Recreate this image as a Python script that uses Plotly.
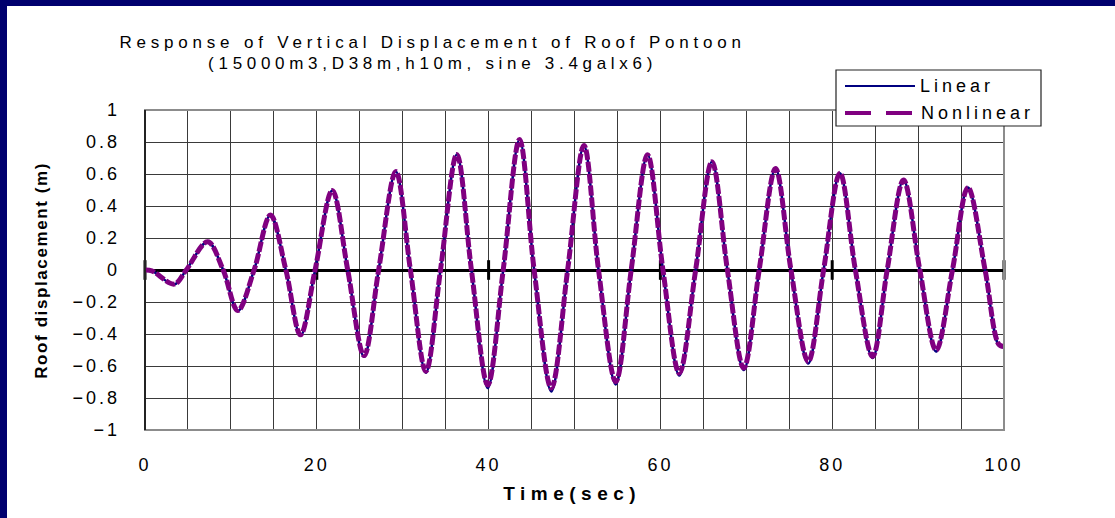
import plotly.graph_objects as go

# Roof pontoon vertical displacement, sampled at peaks, troughs and zero crossings
TIME = [0, 0.8, 3.4, 4.8, 7.3, 9.1, 10.8, 12.7, 14.6, 16.4, 18.1, 19.8, 21.8, 23.6,
        25.5, 27.2, 29.2, 30.9, 32.7, 34.4, 36.3, 38.0, 39.9, 41.7, 43.6, 45.3,
        47.3, 49.2, 51.1, 52.8, 54.8, 56.6, 58.5, 60.3, 62.2, 64.1, 66.0, 67.8,
        69.7, 71.5, 73.4, 75.2, 77.2, 79.0, 80.9, 82.7, 84.7, 86.4, 88.3, 90.2,
        92.1, 94.0, 95.8, 97.8, 99.4, 100]

LINEAR = [0, -0.005, -0.09, 0, 0.176, 0, -0.256, 0, 0.343, 0, -0.41, 0, 0.497, 0,
          -0.542, 0, 0.615, 0, -0.642, 0, 0.722, 0, -0.738, 0, 0.815, 0,
          -0.76, 0, 0.778, 0, -0.715, 0, 0.72, 0, -0.66, 0, 0.676, 0,
          -0.625, 0, 0.634, 0, -0.585, 0, 0.605, 0, -0.55, 0, 0.562, 0,
          -0.51, 0, 0.515, 0, -0.472, -0.485]

NONLINEAR = [0, -0.005, -0.088, 0, 0.176, 0, -0.253, 0, 0.343, 0, -0.405, 0, 0.497, 0,
             -0.535, 0, 0.615, 0, -0.633, 0, 0.722, 0, -0.718, 0, 0.815, 0,
             -0.738, 0, 0.778, 0, -0.697, 0, 0.72, 0, -0.645, 0, 0.676, 0,
             -0.613, 0, 0.634, 0, -0.572, 0, 0.605, 0, -0.54, 0, 0.562, 0,
             -0.5, 0, 0.515, 0, -0.465, -0.478]

X_TICKS = [0, 20, 40, 60, 80, 100]

TITLE_1 = "Response of Vertical Displacement of Roof Pontoon"
TITLE_2 = "(15000m3,D38m,h10m, sine 3.4galx6)"
X_TITLE = "Time(sec)"
Y_TITLE = "Roof displacement (m)"
SERIES_NAMES = ["Linear", "Nonlinear"]

NAVY = "#00006E"
LINEAR_COLOR = "#000080"
NONLINEAR_COLOR = "#800080"
FONT = "Liberation Sans, Arial, sans-serif"

W, H = 1115, 518
PLOT_L, PLOT_R, PLOT_T, PLOT_B = 145, 1004, 110, 430


def fx(px):
    return (px - PLOT_L) / (PLOT_R - PLOT_L)


def fy(py):
    return (PLOT_B - py) / (PLOT_B - PLOT_T)


fig = go.Figure()

# small tick marks sitting on the zero line
fig.add_trace(go.Scatter(
    x=X_TICKS, y=[0] * len(X_TICKS), mode="markers", cliponaxis=False,
    marker=dict(symbol="line-ns", size=14, line=dict(width=3, color="black")),
    hoverinfo="skip", showlegend=False))

fig.add_trace(go.Scatter(
    x=TIME, y=LINEAR, name=SERIES_NAMES[0], mode="lines",
    line=dict(color=LINEAR_COLOR, width=2.5, shape="spline", smoothing=1.0),
    showlegend=False))

fig.add_trace(go.Scatter(
    x=TIME, y=NONLINEAR, name=SERIES_NAMES[1], mode="lines",
    line=dict(color=NONLINEAR_COLOR, width=5, shape="spline", smoothing=1.0,
              dash="10px,2px"),
    showlegend=False))

shapes = [
    # dark frame along the left and top edges of the white panel
    dict(type="rect", xref="paper", yref="paper", layer="above",
         x0=fx(0), x1=fx(7), y0=fy(0), y1=fy(H), fillcolor=NAVY, line=dict(width=0)),
    dict(type="rect", xref="paper", yref="paper", layer="above",
         x0=fx(0), x1=fx(W), y0=fy(0), y1=fy(6), fillcolor=NAVY, line=dict(width=0)),
    # plot area border
    dict(type="rect", xref="paper", yref="paper", layer="above",
         x0=0, x1=1, y0=0, y1=1, line=dict(color="#8c8c8c", width=2)),
    dict(type="line", xref="paper", yref="paper", layer="above",
         x0=0, x1=0, y0=0, y1=1, line=dict(color="black", width=1.5)),
    # legend box
    dict(type="rect", xref="paper", yref="paper", layer="above",
         x0=fx(836), x1=fx(1041), y0=fy(126), y1=fy(70),
         fillcolor="white", line=dict(color="#222222", width=1.2)),
    dict(type="line", xref="paper", yref="paper", layer="above",
         x0=fx(845), x1=fx(915), y0=fy(86), y1=fy(86),
         line=dict(color=LINEAR_COLOR, width=2)),
    dict(type="line", xref="paper", yref="paper", layer="above",
         x0=fx(845), x1=fx(913), y0=fy(113), y1=fy(113),
         line=dict(color=NONLINEAR_COLOR, width=4, dash="26px,15px")),
]

annotations = [
    dict(text=TITLE_1, x=fx(432), y=fy(42), font=dict(size=17)),
    dict(text=TITLE_2, x=fx(432), y=fy(64), font=dict(size=17)),
    dict(text=Y_TITLE, x=fx(41), y=fy(271), textangle=-90,
         font=dict(size=17, weight="bold")),
    dict(text=X_TITLE, x=fx(572), y=fy(493), font=dict(size=19, weight="bold")),
    dict(text=SERIES_NAMES[0], x=fx(957), y=fy(86), font=dict(size=18)),
    dict(text=SERIES_NAMES[1], x=fx(977), y=fy(113), font=dict(size=18)),
]
for a in annotations:
    a.update(xref="paper", yref="paper", showarrow=False,
             xanchor="center", yanchor="middle")
    a["font"].update(family=FONT, color="black")

fig.update_layout(
    width=W, height=H,
    margin=dict(l=PLOT_L, r=W - PLOT_R, t=PLOT_T, b=H - PLOT_B, pad=0),
    paper_bgcolor="white", plot_bgcolor="white",
    font=dict(family=FONT, color="black"),
    shapes=shapes, annotations=annotations,
    showlegend=False,
)

fig.update_xaxes(
    range=[0, 100], tickvals=X_TICKS, ticks="", showline=False,
    showgrid=True, gridcolor="#3a3a3a", gridwidth=1,
    minor=dict(dtick=5, showgrid=True, gridcolor="#3a3a3a", gridwidth=1),
    zeroline=False, tickfont=dict(size=18), ticklabelstandoff=22,
)
fig.update_yaxes(
    range=[-1, 1], dtick=0.2, ticks="", showline=False,
    showgrid=True, gridcolor="#3a3a3a", gridwidth=1,
    zeroline=True, zerolinecolor="black", zerolinewidth=3,
    tickfont=dict(size=18), ticklabelstandoff=24,
)

# letter spacing for the wide-set text
post = """
var gd = document.getElementById('{plot_id}');
var spacing = {'0': '4.8px', '1': '4.7px', '2': '1.6px', '3': '5.5px', '4': '4px', '5': '4px'};
gd.querySelectorAll('g.annotation').forEach(function (g) {
  var i = g.getAttribute('data-index');
  var t = g.querySelector('text');
  if (t && spacing[i]) { t.style.letterSpacing = spacing[i]; }
});
gd.querySelectorAll('.xtick text, .ytick text').forEach(function (t) {
  t.style.letterSpacing = '3px';
});
"""

fig.write_html("out.html", post_script=post)
